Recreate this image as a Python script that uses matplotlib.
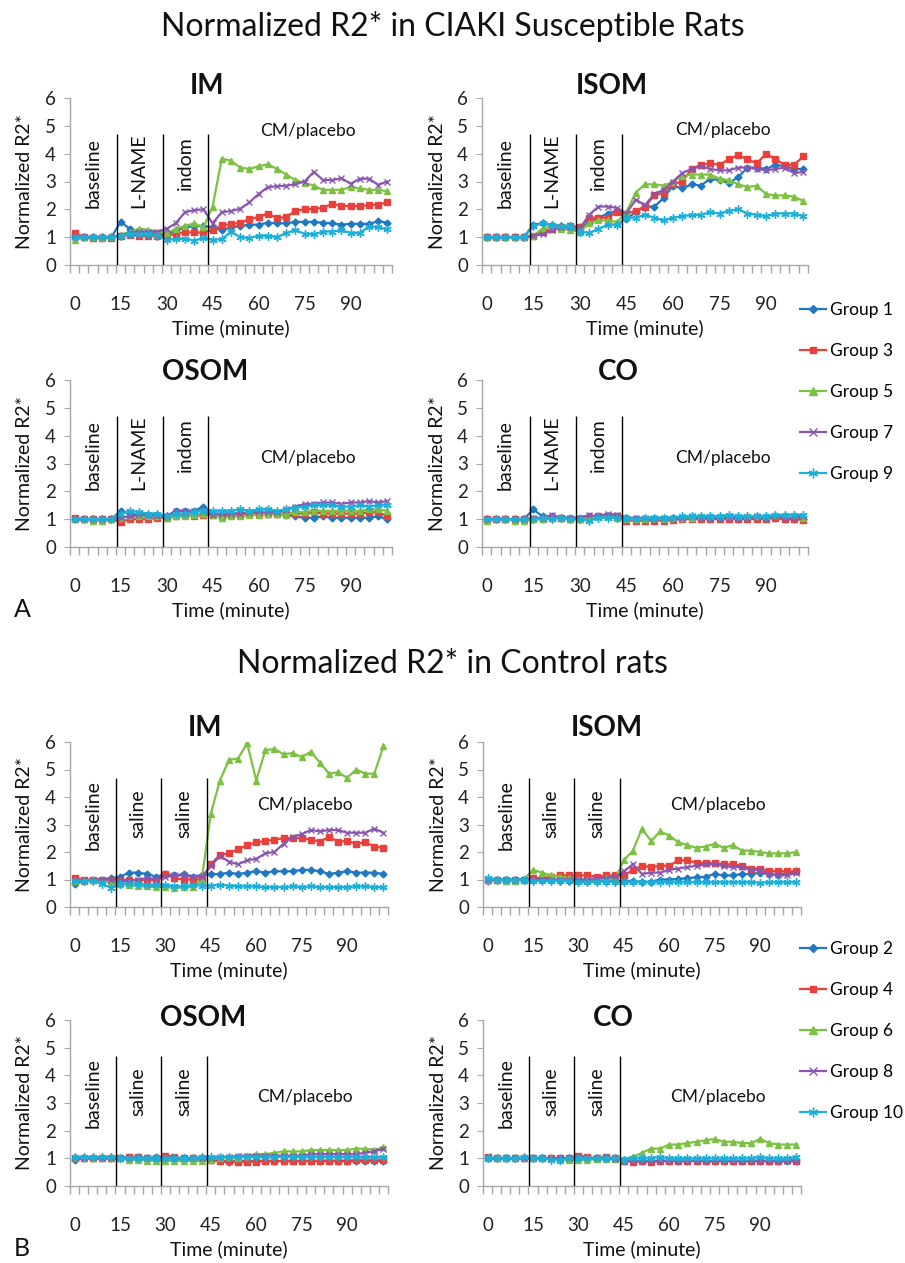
import numpy as np
import matplotlib
matplotlib.use("Agg")
import matplotlib.pyplot as plt
from matplotlib.lines import Line2D

plt.rcParams['font.family'] = ['Lato', 'DejaVu Sans']

# ---------------- data ----------------
time_min = list(range(0, 103, 3))  # 0..102 every 3 min (35 points)
x_tick_labels = [0, 15, 30, 45, 60, 75, 90]
phase_bounds = [13.8, 28.7, 43.6]

# A: CIAKI susceptible rats
a_im_g1 = [1.0,1.0,1.0,1.0,1.0, 1.55,1.3,1.2,1.15,1.1, 1.1,1.25,1.35,1.4,1.4, 1.35,1.25,1.35,1.4,1.45, 1.45,1.52,1.5,1.5,1.55, 1.55,1.55,1.52,1.5,1.45, 1.48,1.48,1.48,1.57,1.52]
a_im_g3 = [1.15,1.0,0.96,0.97,0.98, 1.05,1.08,1.05,1.03,1.05, 1.05,1.12,1.18,1.17,1.17, 1.25,1.42,1.47,1.52,1.65, 1.72,1.85,1.68,1.72,1.95, 2.0,2.02,2.05,2.2,2.12, 2.12,2.12,2.15,2.17,2.25]
a_im_g5 = [0.9,1.0,1.0,0.98,1.0, 1.08,1.2,1.3,1.27,1.2, 1.15,1.3,1.4,1.5,1.35, 2.1,3.82,3.75,3.5,3.45, 3.55,3.62,3.45,3.25,3.05, 2.95,2.85,2.7,2.7,2.7, 2.8,2.75,2.7,2.7,2.65]
a_im_g7 = [1.0,1.0,1.0,1.0,1.0, 1.05,1.15,1.2,1.2,1.2, 1.3,1.5,1.9,1.97,2.0, 1.5,1.9,1.94,2.02,2.25, 2.55,2.8,2.83,2.85,2.9, 3.0,3.35,3.05,3.05,3.12, 2.92,3.1,3.1,2.88,3.0]
a_im_g9 = [1.0,1.0,1.02,1.0,1.0, 1.05,1.1,1.12,1.1,1.05, 0.9,0.93,0.95,0.88,0.98, 0.9,0.92,1.2,1.0,0.97, 1.05,1.05,1.0,1.15,1.25, 1.12,1.1,1.2,1.2,1.25, 1.15,1.15,1.38,1.35,1.28]

a_isom_g1 = [1.0,1.0,1.0,1.0,1.0, 1.45,1.5,1.45,1.4,1.4, 1.35,1.5,1.7,1.85,1.95, 1.65,1.9,2.1,2.1,2.4, 2.85,2.75,2.9,2.85,3.1, 3.05,2.95,3.15,3.5,3.5, 3.45,3.6,3.55,3.45,3.45]
a_isom_g3 = [1.0,1.0,1.0,1.0,1.0, 1.05,1.2,1.3,1.35,1.4, 1.35,1.7,1.7,1.7,1.9, 1.85,1.95,2.1,2.5,2.6, 2.9,3.0,3.45,3.6,3.65, 3.6,3.8,3.95,3.8,3.65, 4.0,3.8,3.6,3.6,3.9]
a_isom_g5 = [1.0,1.0,1.0,1.0,1.0, 1.05,1.3,1.4,1.3,1.25, 1.2,1.5,1.6,1.6,1.55, 1.9,2.6,2.9,2.9,2.85, 3.0,3.2,3.25,3.25,3.25, 3.1,3.05,2.9,2.8,2.85, 2.55,2.5,2.5,2.45,2.3]
a_isom_g7 = [1.0,1.0,1.0,1.0,1.0, 1.05,1.1,1.25,1.35,1.35, 1.3,1.8,2.1,2.1,2.05, 1.85,2.35,2.15,2.55,2.7, 3.0,3.3,3.45,3.55,3.45, 3.4,3.4,3.5,3.5,3.45, 3.4,3.45,3.5,3.3,3.35]
a_isom_g9 = [1.0,1.0,1.0,1.0,1.0, 1.4,1.5,1.45,1.4,1.4, 1.2,1.15,1.3,1.45,1.45, 1.7,1.7,1.8,1.7,1.6, 1.7,1.75,1.8,1.8,1.9, 1.85,1.95,2.0,1.85,1.8, 1.75,1.85,1.85,1.85,1.75]

a_osom_g1 = [1.0,1.0,1.0,1.0,1.0, 1.3,1.2,1.15,1.15,1.15, 1.1,1.3,1.3,1.3,1.45, 1.2,1.2,1.2,1.2,1.2, 1.2,1.2,1.2,1.15,1.1, 1.05,1.05,1.1,1.05,1.05, 1.05,1.05,1.05,1.1,1.0]
a_osom_g3 = [1.05,1.0,1.0,1.0,1.0, 0.9,1.0,1.0,1.0,1.05, 1.05,1.1,1.15,1.12,1.15, 1.15,1.1,1.15,1.15,1.2, 1.2,1.2,1.2,1.2,1.2, 1.2,1.25,1.2,1.2,1.2, 1.2,1.2,1.25,1.25,1.1]
a_osom_g5 = [1.0,1.0,0.95,0.95,1.0, 1.05,1.1,1.1,1.1,1.1, 1.05,1.1,1.1,1.15,1.2, 1.15,1.05,1.1,1.1,1.15, 1.15,1.2,1.2,1.15,1.25, 1.25,1.3,1.3,1.3,1.3, 1.3,1.3,1.35,1.35,1.3]
a_osom_g7 = [1.0,1.0,1.0,1.0,1.0, 1.05,1.1,1.15,1.15,1.1, 1.1,1.3,1.3,1.3,1.3, 1.15,1.2,1.2,1.2,1.25, 1.25,1.25,1.25,1.35,1.45, 1.55,1.55,1.6,1.6,1.55, 1.6,1.6,1.65,1.6,1.65]
a_osom_g9 = [1.0,1.0,1.0,1.0,1.0, 1.2,1.3,1.25,1.2,1.2, 1.1,1.2,1.2,1.25,1.3, 1.3,1.3,1.3,1.35,1.3, 1.35,1.35,1.3,1.35,1.4, 1.45,1.5,1.5,1.5,1.45, 1.45,1.5,1.45,1.5,1.5]

a_co_g1 = [1.0,1.0,1.0,1.0,1.0, 1.35,1.1,1.1,1.05,1.05, 1.05,1.1,1.1,1.1,1.1, 1.05,1.0,1.0,1.0,1.0, 1.05,1.05,1.05,1.05,1.05, 1.05,1.05,1.0,1.05,1.05, 1.05,1.05,1.0,1.0,1.0]
a_co_g3 = [1.0,1.0,1.0,1.0,1.0, 1.0,1.0,1.05,1.05,1.0, 1.0,1.05,1.1,1.1,1.1, 0.95,0.95,0.95,0.95,0.95, 0.97,1.0,1.0,1.0,1.0, 1.0,1.0,1.0,1.0,1.0, 1.0,1.05,1.0,1.0,0.98]
a_co_g5 = [0.95,1.05,1.0,0.95,0.95, 1.0,1.0,1.05,1.05,1.0, 1.0,1.05,1.1,1.1,1.05, 1.0,1.0,1.0,1.05,1.0, 1.05,1.05,1.05,1.1,1.1, 1.1,1.1,1.1,1.1,1.1, 1.1,1.15,1.15,1.15,1.05]
a_co_g7 = [1.0,1.0,1.0,1.0,1.0, 1.05,1.05,1.15,1.05,1.05, 1.05,1.15,1.1,1.2,1.15, 1.05,1.05,1.05,1.05,1.05, 1.05,1.05,1.1,1.05,1.05, 1.05,1.05,1.05,1.05,1.1, 1.05,1.1,1.05,1.05,1.1]
a_co_g9 = [1.0,1.0,1.0,1.0,1.0, 1.0,1.05,1.0,1.05,1.0, 1.0,0.95,1.05,1.05,1.05, 1.05,1.0,1.05,1.05,1.05, 1.05,1.1,1.1,1.1,1.1, 1.1,1.15,1.1,1.1,1.1, 1.1,1.15,1.15,1.15,1.15]

# B: control rats
b_im_g2 = [0.85,0.95,1.0,1.0,1.05, 1.1,1.25,1.25,1.2,1.1, 1.2,1.15,1.2,1.1,1.15, 1.2,1.2,1.25,1.2,1.25, 1.3,1.25,1.3,1.3,1.3, 1.35,1.35,1.3,1.2,1.25, 1.3,1.25,1.25,1.25,1.2]
b_im_g4 = [1.05,1.0,1.0,1.0,0.98, 0.95,1.0,0.95,1.0,0.95, 1.2,1.05,1.0,1.0,1.0, 1.55,1.9,1.95,2.1,2.25, 2.35,2.4,2.45,2.5,2.5, 2.5,2.45,2.38,2.55,2.38, 2.4,2.3,2.35,2.2,2.15]
b_im_g6 = [0.95,0.95,1.0,0.95,0.9, 0.85,0.8,0.75,0.75,0.72, 0.72,0.7,0.72,0.72,1.0, 3.4,4.6,5.35,5.4,5.95, 4.6,5.7,5.75,5.55,5.6, 5.45,5.65,5.25,4.85,4.9, 4.7,5.0,4.85,4.85,5.85]
b_im_g8 = [1.0,0.95,0.98,1.0,1.0, 0.95,0.95,1.0,1.05,1.0, 1.1,1.15,1.15,1.1,1.1, 1.5,1.85,1.65,1.55,1.7, 1.75,1.95,2.0,2.3,2.55, 2.65,2.8,2.75,2.8,2.8, 2.7,2.7,2.7,2.85,2.7]
b_im_g10 = [0.95,0.95,0.95,0.85,0.7, 0.85,0.85,0.85,0.8,0.8, 0.8,0.75,0.75,0.8,0.78, 0.78,0.8,0.78,0.75,0.75, 0.75,0.72,0.72,0.72,0.75, 0.72,0.75,0.72,0.72,0.72, 0.72,0.75,0.75,0.72,0.72]

b_isom_g2 = [0.95,1.0,1.0,1.0,1.0, 1.0,1.0,1.0,0.95,0.95, 0.95,0.95,0.95,0.95,0.95, 0.95,0.95,0.9,0.92,1.0, 1.0,1.02,1.05,1.08,1.1, 1.2,1.15,1.15,1.2,1.2, 1.25,1.2,1.15,1.25,1.3]
b_isom_g4 = [1.0,1.0,1.0,1.0,1.0, 1.05,1.05,1.1,1.15,1.15, 1.15,1.15,1.1,1.15,1.15, 1.15,1.35,1.5,1.45,1.5, 1.5,1.7,1.7,1.6,1.6, 1.6,1.55,1.55,1.5,1.4, 1.4,1.3,1.3,1.3,1.3]
b_isom_g6 = [1.0,1.0,0.95,0.95,1.0, 1.35,1.25,1.15,1.1,1.05, 1.0,1.0,1.0,1.05,1.0, 1.7,2.05,2.85,2.4,2.75, 2.6,2.35,2.25,2.15,2.2, 2.3,2.15,2.25,2.05,2.05, 2.0,1.95,1.95,1.95,2.0]
b_isom_g8 = [1.0,1.0,1.0,1.0,1.0, 1.0,1.0,1.0,1.0,1.0, 1.0,1.0,1.05,1.05,1.1, 1.3,1.55,1.2,1.25,1.25, 1.35,1.4,1.45,1.5,1.55, 1.55,1.5,1.45,1.45,1.35, 1.35,1.2,1.15,1.15,1.25]
b_isom_g10 = [1.05,1.0,1.0,1.0,1.0, 0.95,0.95,0.95,0.95,0.95, 0.9,0.9,0.92,0.92,0.92, 0.9,0.9,0.9,0.9,0.9, 0.9,0.9,0.9,0.9,0.9, 0.9,0.9,0.9,0.9,0.9, 0.88,0.9,0.9,0.9,0.9]

b_osom_g2 = [0.95,1.0,1.0,1.0,1.0, 1.0,1.05,1.05,1.0,1.05, 1.0,1.0,0.95,1.0,1.0, 0.95,0.9,0.85,0.9,0.9, 0.9,0.9,0.9,0.9,0.9, 0.9,0.9,0.9,0.9,0.9, 0.9,0.9,0.9,0.9,0.9]
b_osom_g4 = [1.0,1.0,1.0,1.0,1.0, 1.0,1.05,1.05,1.0,1.0, 1.1,1.05,1.0,1.0,1.0, 0.95,0.9,0.9,0.88,0.88, 0.88,0.9,0.9,0.9,0.9, 0.9,0.9,0.9,0.92,0.9, 0.92,0.95,0.95,0.95,0.95]
b_osom_g6 = [1.0,1.0,1.0,1.0,1.0, 1.0,0.95,0.95,0.92,0.92, 0.92,0.9,0.9,0.9,0.9, 0.95,1.0,1.05,1.0,1.1, 1.15,1.15,1.2,1.25,1.25, 1.25,1.3,1.3,1.3,1.3, 1.3,1.35,1.35,1.3,1.4]
b_osom_g8 = [1.0,1.0,1.0,1.0,1.0, 1.0,1.0,1.0,1.0,1.0, 1.0,1.0,1.0,1.0,1.0, 1.0,1.05,1.05,1.1,1.1, 1.1,1.1,1.1,1.1,1.1, 1.1,1.15,1.15,1.15,1.15, 1.15,1.15,1.2,1.25,1.35]
b_osom_g10 = [1.05,1.05,1.05,1.05,1.05, 1.0,1.0,1.0,1.0,1.0, 1.0,1.0,1.0,1.0,1.05, 1.05,1.05,1.05,1.05,1.05, 1.05,1.05,1.05,1.05,1.05, 1.05,1.05,1.05,1.05,1.05, 1.05,1.05,1.05,1.05,1.05]

b_co_g2 = [1.0,1.0,1.0,1.0,1.0, 1.0,1.0,1.0,1.0,1.0, 1.0,1.0,1.0,1.0,1.0, 0.92,0.9,0.9,0.9,0.9, 0.92,0.92,0.92,0.9,0.9, 0.9,0.9,0.9,0.9,0.9, 0.9,0.9,0.9,0.9,0.9]
b_co_g4 = [1.05,1.0,1.0,1.0,1.0, 1.0,1.0,1.0,1.0,1.0, 1.1,1.05,1.0,1.05,1.0, 0.9,0.88,0.9,0.88,0.9, 0.9,0.9,0.9,0.92,0.9, 0.9,0.92,0.9,0.9,0.9, 0.92,0.9,0.9,0.95,0.92]
b_co_g6 = [1.0,1.0,1.0,1.0,1.0, 1.0,1.0,1.0,0.95,0.95, 0.95,0.95,0.97,0.97,0.97, 0.98,1.05,1.2,1.35,1.35, 1.5,1.5,1.55,1.6,1.65, 1.7,1.6,1.6,1.55,1.55, 1.7,1.55,1.5,1.5,1.5]
b_co_g8 = [1.0,1.0,1.0,1.0,1.0, 1.0,1.0,1.0,1.0,1.0, 1.0,1.0,1.0,1.0,0.97, 0.95,0.9,0.9,0.9,0.9, 0.9,0.9,0.9,0.9,0.9, 0.9,0.9,0.9,0.9,0.9, 0.9,0.9,0.9,0.9,0.9]
b_co_g10 = [1.0,1.0,1.0,1.0,1.05, 1.0,1.0,0.95,0.95,1.0, 1.0,1.0,1.0,1.0,1.0, 0.95,1.0,1.0,1.0,1.05, 1.0,1.0,1.0,1.0,1.0, 1.0,1.0,1.0,1.0,1.0, 1.05,1.0,1.0,1.0,1.05]

groups_a = ["Group 1", "Group 3", "Group 5", "Group 7", "Group 9"]
groups_b = ["Group 2", "Group 4", "Group 6", "Group 8", "Group 10"]
phase_labels_a = ["baseline", "L-NAME", "indom"]
phase_labels_b = ["baseline", "saline", "saline"]

# ---------------- styles ----------------
colors = ['#1F78C1', '#E8403A', '#7DC142', '#8A56B0', '#1CAFD8']
markers = ['D', 's', '^', 'x', (6, 2, 0)]
msizes = [3.5, 4, 4.5, 5, 6]
GRAY = '#A6A6A6'
W, H = 905, 1263

fig = plt.figure(figsize=(W / 100, H / 100), dpi=100)


def rect(l, t, r, b):
    return [l / W, 1 - b / H, (r - l) / W, (b - t) / H]


def panel(box, title, title_xy, series, phase_labels, phase_y, cm_y):
    l, t, r, b = box
    ax = fig.add_axes(rect(l, t, r, b))
    for i, s in enumerate(series):
        ax.plot(time_min, s, color=colors[i], lw=1.6, marker=markers[i],
                ms=msizes[i], mew=1.0, mfc=colors[i], mec=colors[i], zorder=3)
    ax.set_xlim(-1.5, 103.5)
    ax.set_ylim(0, 6)
    for s in ['top', 'right']:
        ax.spines[s].set_visible(False)
    for s in ['left', 'bottom']:
        ax.spines[s].set_color(GRAY)
        ax.spines[s].set_linewidth(1.0)
    ax.set_yticks(range(0, 7))
    ax.tick_params(axis='y', length=4, color=GRAY, labelsize=13.5, pad=6,
                   labelcolor='#222222')
    ax.set_xticks(x_tick_labels)
    ax.set_xticks(np.arange(-1.5, 104, 3), minor=True)
    ax.tick_params(axis='x', which='major', length=0, labelsize=13.5, pad=22,
                   labelcolor='#222222')
    ax.tick_params(axis='x', which='minor', length=6, color=GRAY, width=1.0)
    ax.vlines(phase_bounds, 0, 4.7, color='black', lw=1.0, zorder=4)
    for xp, lab, yp in zip([6, 21, 36], phase_labels, phase_y):
        ax.text(xp, yp, lab, rotation=90, ha='center', va='center',
                fontsize=14, color='#111111')
    ax.text(76, cm_y, "CM/placebo", ha='center', va='center', fontsize=12.5,
            color='#111111')
    fig.text(title_xy[0] / W, 1 - title_xy[1] / H, title, ha='center',
             va='center', fontsize=20, fontweight='bold', color='#111111')
    fig.text((l - 45) / W, 1 - (t + b) / 2 / H, "Normalized R2*", rotation=90,
             ha='center', va='center', fontsize=14, color='#111111')
    fig.text((l + r) / 2 / W, 1 - (b + 63) / H, "Time (minute)", ha='center',
             va='center', fontsize=14, color='#111111')
    return ax


pa = [3.3, 3.4, 3.65]
pb = [3.35, 3.4, 3.4]

panel((70, 98, 392, 265), "IM", (207, 86),
      [a_im_g1, a_im_g3, a_im_g5, a_im_g7, a_im_g9], phase_labels_a, pa, 4.8)
panel((482, 98, 808, 265), "ISOM", (612, 86),
      [a_isom_g1, a_isom_g3, a_isom_g5, a_isom_g7, a_isom_g9], phase_labels_a, pa, 4.85)
panel((70, 380, 392, 547), "OSOM", (205, 372),
      [a_osom_g1, a_osom_g3, a_osom_g5, a_osom_g7, a_osom_g9], phase_labels_a, pa, 3.2)
panel((482, 380, 808, 547), "CO", (618, 372),
      [a_co_g1, a_co_g3, a_co_g5, a_co_g7, a_co_g9], phase_labels_a, pa, 3.2)

panel((70, 742, 388, 907), "IM", (205, 728),
      [b_im_g2, b_im_g4, b_im_g6, b_im_g8, b_im_g10], phase_labels_b, pb, 3.7)
panel((483, 742, 801, 907), "ISOM", (607, 728),
      [b_isom_g2, b_isom_g4, b_isom_g6, b_isom_g8, b_isom_g10], phase_labels_b, pb, 3.7)
panel((70, 1020, 388, 1186), "OSOM", (203, 1018),
      [b_osom_g2, b_osom_g4, b_osom_g6, b_osom_g8, b_osom_g10], phase_labels_b, pb, 3.2)
panel((483, 1020, 801, 1186), "CO", (613, 1018),
      [b_co_g2, b_co_g4, b_co_g6, b_co_g8, b_co_g10], phase_labels_b, pb, 3.2)

# main titles and panel letters
fig.text(0.5, 1 - 27 / H, "Normalized R2* in CIAKI Susceptible Rats",
         ha='center', va='center', fontsize=23, color='#111111')
fig.text(0.5, 1 - 664 / H, "Normalized R2* in Control rats",
         ha='center', va='center', fontsize=23, color='#111111')
fig.text(22 / W, 1 - 609 / H, "A", ha='center', va='center', fontsize=18, color='#111111')
fig.text(22 / W, 1 - 1248 / H, "B", ha='center', va='center', fontsize=18, color='#111111')


def legend(labels, cy):
    handles = [Line2D([0], [0], color=colors[i], lw=1.6, marker=markers[i],
                      ms=msizes[i] + 1, mfc=colors[i], mec=colors[i])
               for i in range(5)]
    fig.legend(handles, labels, loc='center left',
               bbox_to_anchor=(800 / W, 1 - cy / H), frameon=False,
               fontsize=12.5, labelspacing=1.43, handlelength=1.5,
               handletextpad=0.2, borderpad=0, borderaxespad=0)


legend(groups_a, 392)
legend(groups_b, 1031)

fig.savefig("out.png", dpi=100)
